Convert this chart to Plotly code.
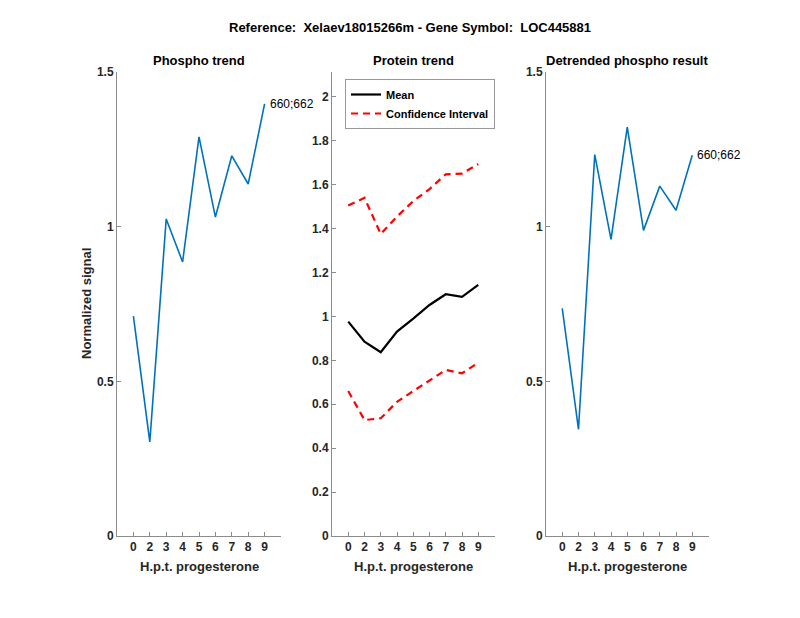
import plotly.graph_objects as go

# ---------------- data ----------------
positions = [1, 2, 3, 4, 5, 6, 7, 8, 9]
tick_labels = ["0", "2", "3", "4", "5", "6", "7", "8", "9"]

phospho_trend = [0.711, 0.304, 1.025, 0.886, 1.290, 1.031, 1.229, 1.138, 1.397]
protein_mean = [0.976, 0.885, 0.837, 0.931, 0.990, 1.052, 1.101, 1.089, 1.144]
protein_ci_upper = [1.505, 1.540, 1.375, 1.455, 1.525, 1.580, 1.647, 1.650, 1.694]
protein_ci_lower = [0.660, 0.528, 0.536, 0.611, 0.660, 0.710, 0.756, 0.741, 0.789]
detrended_phospho = [0.736, 0.345, 1.233, 0.959, 1.322, 0.988, 1.131, 1.053, 1.231]

site_label = "660;662"
main_title = "Reference:  Xelaev18015266m - Gene Symbol:  LOC445881"
panel_titles = ["Phospho trend", "Protein trend", "Detrended phospho result"]
x_title = "H.p.t. progesterone"
y_title = "Normalized signal"

# ---------------- style ----------------
PAGE_MARGIN = 8          # default body margin of the html page
W, H = 800 - 2 * PAGE_MARGIN, 618 - 2 * PAGE_MARGIN
FONT = "Liberation Sans, Arial, Helvetica, sans-serif"
TXT = "#262626"
BLUE = "#0072BD"
AXCOL = "#8c8c8c"

def px_x(p):
    return (p - PAGE_MARGIN) / W

def px_y(p):
    return 1 - (p - PAGE_MARGIN) / H

dom_x = [
    [px_x(117), px_x(281)],
    [px_x(332), px_x(494.5)],
    [px_x(546), px_x(708.5)],
]
dom_y = [px_y(536), px_y(72)]

fig = go.Figure()

fig.add_trace(go.Scatter(x=positions, y=phospho_trend, mode="lines",
                         line=dict(color=BLUE, width=1.6), showlegend=False,
                         xaxis="x", yaxis="y"))
fig.add_trace(go.Scatter(x=positions, y=protein_mean, mode="lines", name="Mean",
                         line=dict(color="black", width=2.2),
                         xaxis="x2", yaxis="y2"))
fig.add_trace(go.Scatter(x=positions, y=protein_ci_upper, mode="lines",
                         name="Confidence Interval",
                         line=dict(color="red", width=2.2, dash="7px,5px"),
                         xaxis="x2", yaxis="y2"))
fig.add_trace(go.Scatter(x=positions, y=protein_ci_lower, mode="lines",
                         name="Confidence Interval", showlegend=False,
                         line=dict(color="red", width=2.2, dash="7px,5px"),
                         xaxis="x2", yaxis="y2"))
fig.add_trace(go.Scatter(x=positions, y=detrended_phospho, mode="lines",
                         line=dict(color=BLUE, width=1.6), showlegend=False,
                         xaxis="x3", yaxis="y3"))

TICKFONT = dict(family=FONT, size=12, color=TXT, weight="bold")
xcommon = dict(range=[0, 10], tickmode="array", tickvals=positions,
               ticktext=tick_labels, ticks="inside", ticklen=4,
               tickcolor=AXCOL, showline=True, linecolor=AXCOL, linewidth=1,
               showgrid=False, zeroline=False, automargin=False,
               tickfont=TICKFONT)
ycommon = dict(ticks="inside", ticklen=4, tickcolor=AXCOL, showline=True,
               linecolor=AXCOL, linewidth=1, showgrid=False, zeroline=False,
               automargin=False, tickfont=TICKFONT)

layout = dict(
    width=W, height=H, autosize=False,
    margin=dict(l=0, r=0, t=0, b=0, pad=0, autoexpand=False),
    paper_bgcolor="white", plot_bgcolor="white",
    font=dict(family=FONT, color=TXT),
    xaxis=dict(domain=dom_x[0], anchor="y", **xcommon),
    xaxis2=dict(domain=dom_x[1], anchor="y2", **xcommon),
    xaxis3=dict(domain=dom_x[2], anchor="y3", **xcommon),
    yaxis=dict(domain=dom_y, anchor="x", range=[0, 1.5],
               tickvals=[0, 0.5, 1, 1.5], ticktext=["0", "0.5", "1", "1.5"],
               **ycommon),
    yaxis2=dict(domain=dom_y, anchor="x2", range=[0, 2.113],
                tickvals=[0, 0.2, 0.4, 0.6, 0.8, 1, 1.2, 1.4, 1.6, 1.8, 2],
                ticktext=["0", "0.2", "0.4", "0.6", "0.8", "1", "1.2", "1.4",
                          "1.6", "1.8", "2"],
                **ycommon),
    yaxis3=dict(domain=dom_y, anchor="x3", range=[0, 1.5],
                tickvals=[0, 0.5, 1, 1.5], ticktext=["0", "0.5", "1", "1.5"],
                **ycommon),
    legend=dict(x=px_x(345), y=px_y(79), xanchor="left", yanchor="top",
                bgcolor="white", bordercolor="#999999", borderwidth=1,
                font=dict(family=FONT, size=11, color="black", weight="bold"),
                tracegroupgap=0, itemwidth=30),
    showlegend=True,
)
fig.update_layout(**layout)

anns = []
anns.append(dict(text="<b>" + main_title + "</b>", xref="paper", yref="paper",
                 x=px_x(410), y=px_y(27), xanchor="center", yanchor="middle",
                 showarrow=False, font=dict(family=FONT, size=13, color="black")))
for i, t in enumerate(panel_titles):
    cx = (dom_x[i][0] + dom_x[i][1]) / 2
    anns.append(dict(text="<b>" + t + "</b>", xref="paper", yref="paper",
                     x=cx, y=px_y(61), xanchor="center", yanchor="middle",
                     showarrow=False,
                     font=dict(family=FONT, size=13, color="black")))
    anns.append(dict(text="<b>" + x_title + "</b>", xref="paper", yref="paper",
                     x=cx, y=px_y(566), xanchor="center", yanchor="middle",
                     showarrow=False,
                     font=dict(family=FONT, size=13, color=TXT)))
anns.append(dict(text="<b>" + y_title + "</b>", xref="paper", yref="paper",
                 x=px_x(86), y=px_y(304), xanchor="center", yanchor="middle",
                 textangle=-90, showarrow=False,
                 font=dict(family=FONT, size=13, color=TXT)))
anns.append(dict(text=site_label, xref="x", yref="y", x=positions[-1],
                 y=phospho_trend[-1], xanchor="left", yanchor="middle",
                 xshift=3, showarrow=False,
                 font=dict(family=FONT, size=12, color="black")))
anns.append(dict(text=site_label, xref="x3", yref="y3", x=positions[-1],
                 y=detrended_phospho[-1], xanchor="left", yanchor="middle",
                 xshift=3, showarrow=False,
                 font=dict(family=FONT, size=12, color="black")))
fig.update_layout(annotations=anns)

fig.write_html("out.html")
